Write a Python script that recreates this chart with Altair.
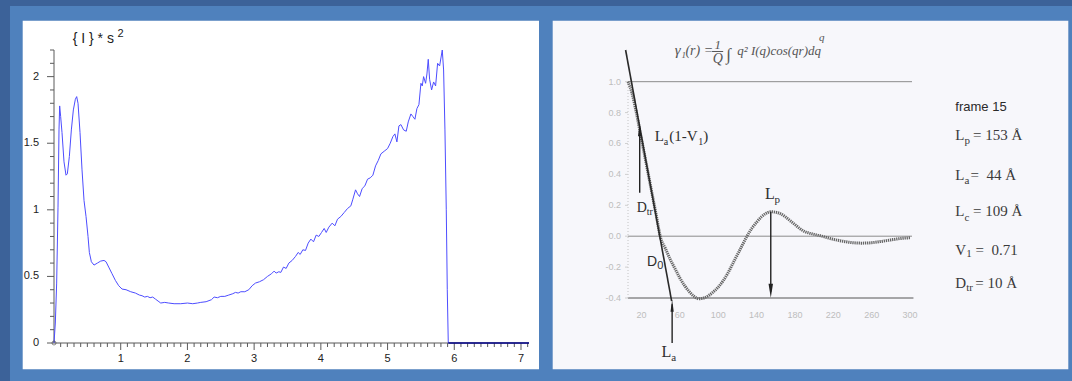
import altair as alt
import pandas as pd

# ---------------- left panel: {I}*s^2 against s ----------------
s_vals = [0.0, 0.02, 0.04, 0.06, 0.075, 0.085, 0.10, 0.12, 0.15, 0.18, 0.20, 0.23, 0.26, 0.29, 0.32,
          0.34, 0.36, 0.39, 0.42, 0.45, 0.48, 0.51, 0.53, 0.56, 0.60, 0.65, 0.70, 0.75, 0.78, 0.82,
          0.87, 0.92, 0.97, 1.02, 1.08, 1.15, 1.22, 1.28, 1.32, 1.36, 1.40, 1.44, 1.48, 1.52, 1.56,
          1.60, 1.66, 1.72, 1.80, 1.90, 2.00, 2.08, 2.15, 2.20, 2.28, 2.36, 2.40, 2.45, 2.50, 2.56,
          2.62, 2.68, 2.72, 2.76, 2.80, 2.86, 2.92, 2.97, 3.02, 3.08, 3.14, 3.20, 3.26, 3.30, 3.33,
          3.37, 3.40, 3.44, 3.48, 3.52, 3.57, 3.62, 3.66, 3.69, 3.73, 3.77, 3.81, 3.85, 3.89, 3.93,
          3.97, 4.01, 4.05, 4.08, 4.12, 4.17, 4.21, 4.25, 4.30, 4.35, 4.40, 4.45, 4.48, 4.52, 4.55,
          4.58, 4.62, 4.66, 4.70, 4.74, 4.78, 4.82, 4.86, 4.90, 4.95, 5.00, 5.04, 5.08, 5.11, 5.14,
          5.17, 5.20, 5.24, 5.28, 5.31, 5.35, 5.38, 5.41, 5.44, 5.47, 5.50, 5.52, 5.54, 5.57, 5.59,
          5.61, 5.63, 5.66, 5.69, 5.72, 5.75, 5.78, 5.80, 5.82, 5.84, 5.86, 5.88, 5.895, 5.91]
i_vals = [0.0, 0.15, 0.45, 1.02, 1.60, 1.78, 1.70, 1.58, 1.36, 1.26, 1.27, 1.40, 1.60, 1.75, 1.83,
          1.85, 1.80, 1.58, 1.30, 1.07, 0.95, 0.80, 0.68, 0.61, 0.585, 0.60, 0.615, 0.62, 0.61, 0.57,
          0.52, 0.47, 0.43, 0.405, 0.40, 0.385, 0.375, 0.36, 0.355, 0.345, 0.35, 0.34, 0.345, 0.33, 0.315,
          0.30, 0.305, 0.30, 0.295, 0.295, 0.30, 0.295, 0.30, 0.305, 0.31, 0.325, 0.345, 0.34, 0.35, 0.35,
          0.36, 0.37, 0.38, 0.375, 0.385, 0.385, 0.40, 0.43, 0.45, 0.46, 0.475, 0.50, 0.52, 0.54, 0.525,
          0.535, 0.53, 0.57, 0.56, 0.60, 0.62, 0.65, 0.68, 0.665, 0.70, 0.695, 0.75, 0.78, 0.76, 0.81,
          0.80, 0.83, 0.86, 0.83, 0.87, 0.90, 0.88, 0.93, 0.95, 0.98, 1.01, 1.03, 1.08, 1.15, 1.12,
          1.10, 1.16, 1.18, 1.23, 1.24, 1.26, 1.33, 1.37, 1.42, 1.44, 1.46, 1.50, 1.55, 1.57, 1.51,
          1.63, 1.64, 1.60, 1.59, 1.66, 1.72, 1.70, 1.68, 1.76, 1.79, 1.95, 1.93, 2.00, 1.95, 2.02,
          2.13, 1.98, 1.90, 1.96, 1.93, 2.10, 2.08, 2.14, 2.20, 2.05, 1.60, 1.00, 0.40, 0.0]
tail_s = [5.91, 7.12]
tail_i = [0.0, 0.0]
x_major = [1, 2, 3, 4, 5, 6, 7]
x_major_lbl = ["1", "2", "3", "4", "5", "6", "7"]
y_major = [0, 0.5, 1, 1.5, 2]
y_major_lbl = ["0", "0.5", "1", "1.5", "2"]
x_minor = [round(0.1 * k, 1) for k in range(1, 72) if k % 10]
y_minor = [round(0.1 * k, 1) for k in range(1, 23) if k % 5]
x_axis_end = [0, 7.12]
y_axis_end = [0, 2.2]
left_title = ["{ I } * s", "2"]
left_title_s = [0.28, 0.95]
left_title_v = [2.249, 2.294]
left_title_fs = [14, 11]

# ---------------- right panel: correlation function ----------------
r_vals = [6, 10, 15, 20, 25, 30, 35, 40, 45, 50, 55, 60, 65, 70, 75, 80, 85, 90, 95, 100, 105, 110,
          115, 120, 125, 130, 135, 140, 145, 150, 155, 160, 165, 170, 175, 180, 185, 190, 195, 200,
          205, 210, 215, 220, 230, 240, 250, 260, 270, 280, 290, 300]
g_vals = [1.0, 0.93, 0.79, 0.63, 0.47, 0.31, 0.15, -0.01, -0.08, -0.15, -0.21, -0.27, -0.32, -0.36,
          -0.39, -0.405, -0.40, -0.385, -0.36, -0.33, -0.29, -0.24, -0.18, -0.12, -0.06, 0.0, 0.05,
          0.09, 0.125, 0.148, 0.158, 0.155, 0.145, 0.125, 0.10, 0.075, 0.05, 0.03, 0.02, 0.012, 0.005,
          -0.003, -0.012, -0.02, -0.033, -0.042, -0.045, -0.042, -0.034, -0.024, -0.015, -0.01]
tangent_r = [3.5, 51.5]
tangent_g = [1.205, -0.42]
ref_g = [1.0, 0.0, -0.4]
ref_r0 = [6, 6, 6]
ref_r1 = [302, 302, 303.5]
ref_col = ["#8c8c8c", "#8c8c8c", "#555555"]
r_ticks = [20, 60, 100, 140, 180, 220, 260, 300]
r_tick_lbl = ["20", "60", "100", "140", "180", "220", "260", "300"]
g_ticks = [-0.4, -0.2, 0.0, 0.2, 0.4, 0.6, 0.8, 1.0]
g_tick_lbl = ["-0.4", "-0.2", "0.0", "0.2", "0.4", "0.6", "0.8", "1.0"]

shaft_r = [18.2, 52.0, 154.8]
shaft_g0 = [0.281, -0.691, 0.158]
shaft_g1 = [0.70, -0.44, -0.36]
up_head_r = [18.2, 52.0]
up_head_g = [0.689, -0.45]
up_head_size = [169, 144]
down_head_r = [154.8]
down_head_g = [-0.353]

lbl_t = ["L", "a", "(1-V", "1", ")", "L", "p", "D", "tr", "L", "a"]
lbl_r = [33.9, 43.3, 49.0, 79.3, 84.5, 148.8, 158.7, 15.1, 25.5, 40.9, 51.1]
lbl_g = [0.617, 0.591, 0.617, 0.591, 0.617, 0.242, 0.216, 0.158, 0.1385, -0.779, -0.805]
lbl_fs = [15, 10, 15, 10, 15, 16, 11, 14, 10, 16, 11]

d0_t = ["D", "0"]
d0_r = [25.8, 36.4]
d0_g = [-0.191, -0.2106]
d0_fs = [14, 11]

frm_t = ["\u03b3", "1", "(r) =", "q\u00b2 I(q)cos(qr)dq", "q"]
frm_r = [54.8, 61.8, 65.8, 119.9, 205.2]
frm_g = [1.1727, 1.153, 1.1727, 1.1727, 1.265]
frm_fs = [15, 9, 14, 13, 11]
frac_t = ["1", "Q"]
frac_r = [99.6, 99.6]
frac_g = [1.2115, 1.121]
frac_fs = [13, 14]
frac_bar_r = [93.6, 105.2]
frac_bar_g = [1.1953]
int_t = ["\u222b"]
int_r = [108.5]
int_g = [1.1405]

side_t = ["L", "p", "= 153 \u00c5", "L", "a", "=\u00a0 44 \u00c5", "L", "c", "= 109 \u00c5",
          "V", "1", "=\u00a0 0.71", "D", "tr", "= 10 \u00c5"]
side_r = [347.2, 356.8, 365.7, 347.2, 356.8, 362.9, 347.2, 356.8, 365.7,
          347.2, 358.5, 368.1, 347.2, 358.5, 368.0]
side_g = [0.6233, 0.597, 0.6233, 0.3647, 0.3389, 0.3647, 0.1275, 0.0997, 0.1275,
          -0.120, -0.133, -0.120, -0.335, -0.357, -0.335]
side_fs = [15, 11, 15, 15, 11, 15, 15, 11, 15, 15, 11, 15, 15, 11, 15]
frame_t = ["frame 15"]
frame_r = [347.2]
frame_g = [0.8075]

# ---------------- layout (page pixels) ----------------
BG = "#4f81bd"
DARK = "#3c6299"
OX1, OX2, OY = 54, 628, 50
W1, H1 = 475, 293
W2, H2 = 284, 248
AXC = "#5a5a5a"

xs1 = alt.Scale(domain=[0, 7.12], nice=False, zero=False)
ys1 = alt.Scale(domain=[0, 2.2], nice=False, zero=False)
xs2 = alt.Scale(domain=[6, 302], nice=False, zero=False)
ys2 = alt.Scale(domain=[-0.4, 1.205], nice=False, zero=False)


def block(x0, x1, y0, y1, color, ox):
    return alt.Chart(pd.DataFrame({"k": [0]})).mark_rect(color=color).encode(
        x=alt.value(x0 - ox), x2=alt.value(x1 - ox),
        y=alt.value(y0 - OY), y2=alt.value(y1 - OY))


def X1(f="s"):
    return alt.X(f + ":Q", scale=xs1, axis=None)


def Y1(f="v"):
    return alt.Y(f + ":Q", scale=ys1, axis=None)


def X2(f="r"):
    return alt.X(f + ":Q", scale=xs2, axis=None)


def Y2(f="g"):
    return alt.Y(f + ":Q", scale=ys2, axis=None)


# ---- left chart ----
df_left = pd.DataFrame({"s": s_vals, "v": i_vals})
df_tail = pd.DataFrame({"s": tail_s, "v": tail_i})

x_dom1 = alt.Chart(pd.DataFrame({"s0": [x_axis_end[0]], "s1": [x_axis_end[1]], "v": [0]})).mark_rule(
    color=AXC, strokeWidth=1).encode(x=X1("s0"), x2="s1:Q", y=Y1())
y_dom1 = alt.Chart(pd.DataFrame({"s": [0], "v0": [y_axis_end[0]], "v1": [y_axis_end[1]]})).mark_rule(
    color=AXC, strokeWidth=1).encode(x=X1(), y=Y1("v0"), y2="v1:Q")
xmaj = alt.Chart(pd.DataFrame({"s": x_major})).mark_rule(color=AXC).encode(
    x=X1(), y=alt.value(H1), y2=alt.value(H1 + 7))
ymaj = alt.Chart(pd.DataFrame({"v": y_major})).mark_rule(color=AXC).encode(
    y=Y1(), x=alt.value(-7), x2=alt.value(0))
xmin = alt.Chart(pd.DataFrame({"s": x_minor})).mark_rule(color=AXC).encode(
    x=X1(), y=alt.value(H1), y2=alt.value(H1 + 4))
ymin = alt.Chart(pd.DataFrame({"v": y_minor})).mark_rule(color=AXC).encode(
    y=Y1(), x=alt.value(-4), x2=alt.value(0))
xlab1 = alt.Chart(pd.DataFrame({"s": x_major, "t": x_major_lbl})).mark_text(
    align="center", baseline="top", font="Liberation Sans", fontSize=11, color="#222").encode(
    x=X1(), y=alt.value(H1 + 10), text="t:N")
ylab1 = alt.Chart(pd.DataFrame({"v": y_major, "t": y_major_lbl})).mark_text(
    align="right", baseline="middle", font="Liberation Sans", fontSize=11, color="#222").encode(
    y=Y1(), x=alt.value(-15), text="t:N")

curve1 = alt.Chart(df_left).mark_line(color="#4d4dff", strokeWidth=1).encode(x=X1(), y=Y1())
tail1 = alt.Chart(df_tail).mark_line(color="#000088", strokeWidth=1.5).encode(x=X1(), y=Y1())
origin1 = alt.Chart(df_left.head(1)).mark_point(shape="circle", filled=False, color="#333",
                                                size=16, strokeWidth=0.8).encode(x=X1(), y=Y1())
title1 = alt.Chart(pd.DataFrame({"s": left_title_s, "v": left_title_v, "t": left_title,
                                 "fs": left_title_fs})).mark_text(
    align="left", baseline="alphabetic", font="Liberation Sans", color="#222").encode(
    x=X1(), y=Y1(), text="t:N", size=alt.Size("fs:Q", scale=None))

left = alt.layer(
    block(0, 546, 0, 6, DARK, OX1),
    block(0, 10, 0, 381, DARK, OX1),
    block(22.7, 539, 20.7, 369.3, "#ffffff", OX1),
    x_dom1, y_dom1, xmin, ymin, xmaj, ymaj, xlab1, ylab1,
    curve1, tail1, origin1, title1,
).properties(width=W1, height=H1)

# ---- right chart ----
refs = alt.Chart(pd.DataFrame({"g": ref_g, "r0": ref_r0, "r1": ref_r1, "c": ref_col})).mark_rule(
    strokeWidth=1).encode(x=X2("r0"), x2="r1:Q", y=Y2(), color=alt.Color("c:N", scale=None))
yline = alt.Chart(pd.DataFrame({"r": [6], "g0": [-0.4], "g1": [1.0]})).mark_rule(
    color="#c4c4c4", strokeDash=[1, 2]).encode(x=X2(), y=Y2("g0"), y2="g1:Q")
gtick = alt.Chart(pd.DataFrame({"g": g_ticks})).mark_rule(color="#cfcfcf").encode(
    y=Y2(), x=alt.value(-3), x2=alt.value(0))
glab = alt.Chart(pd.DataFrame({"g": g_ticks, "t": g_tick_lbl})).mark_text(
    align="right", baseline="middle", font="Liberation Sans", fontSize=9, color="#bdbdbd").encode(
    y=Y2(), x=alt.value(-7), text="t:N")
rlab = alt.Chart(pd.DataFrame({"r": r_ticks, "t": r_tick_lbl})).mark_text(
    align="center", baseline="top", font="Liberation Sans", fontSize=9, color="#bdbdbd").encode(
    x=X2(), y=alt.value(H2 + 13), text="t:N")
curve2 = alt.Chart(pd.DataFrame({"r": r_vals, "g": g_vals})).mark_line(
    color="#666666", strokeWidth=3, strokeDash=[1.3, 0.8], interpolate="monotone").encode(
    x=X2(), y=Y2())
tangent = alt.Chart(pd.DataFrame({"r": tangent_r, "g": tangent_g})).mark_line(
    color="#2a2a2a", strokeWidth=1.6).encode(x=X2(), y=Y2())
shafts = alt.Chart(pd.DataFrame({"r": shaft_r, "g0": shaft_g0, "g1": shaft_g1})).mark_rule(
    color="#222", strokeWidth=1.4).encode(x=X2(), y=Y2("g0"), y2="g1:Q")
heads_up = alt.Chart(pd.DataFrame({"r": up_head_r, "g": up_head_g, "sz": up_head_size})).mark_point(
    shape="M0,-1L0.27,1L-0.27,1Z", filled=True, color="#222", opacity=1).encode(
    x=X2(), y=Y2(), size=alt.Size("sz:Q", scale=None))
heads_down = alt.Chart(pd.DataFrame({"r": down_head_r, "g": down_head_g})).mark_point(
    shape="M0,1L0.32,-1L-0.32,-1Z", filled=True, color="#222", opacity=1, size=196).encode(
    x=X2(), y=Y2())
frac_bar = alt.Chart(pd.DataFrame({"r0": [frac_bar_r[0]], "r1": [frac_bar_r[1]],
                                   "g": frac_bar_g})).mark_rule(color="#555", strokeWidth=1).encode(
    x=X2("r0"), x2="r1:Q", y=Y2())


def texts(t, r, g, fs, font, style="normal", color="#333", align="left"):
    df = pd.DataFrame({"t": t, "r": r, "g": g, "fs": fs})
    return alt.Chart(df).mark_text(align=align, baseline="alphabetic", font=font,
                                   fontStyle=style, color=color).encode(
        x=X2(), y=Y2(), text="t:N", size=alt.Size("fs:Q", scale=None))


t_lbl = texts(lbl_t, lbl_r, lbl_g, lbl_fs, "Liberation Serif", color="#2e2e2e")
t_d0 = texts(d0_t, d0_r, d0_g, d0_fs, "Liberation Sans", color="#2e2e2e")
t_frm = texts(frm_t, frm_r, frm_g, frm_fs, "Liberation Serif", style="italic", color="#555")
t_frac = texts(frac_t, frac_r, frac_g, frac_fs, "Liberation Serif", style="italic", color="#555",
               align="center")
t_int = texts(int_t, int_r, int_g, [17], "Liberation Serif", color="#555")
t_side = texts(side_t, side_r, side_g, side_fs, "Liberation Serif", color="#3a3a3a")
t_frame = texts(frame_t, frame_r, frame_g, [13], "Liberation Sans", color="#2a2a2a")

right = alt.layer(
    block(546, 1072, 0, 6, DARK, OX2),
    block(552.7, 1068.3, 20.7, 369.3, "#f7f7fb", OX2),
    refs, yline, gtick, glab, rlab, curve2, tangent, shafts, heads_up, heads_down, frac_bar,
    t_lbl, t_d0, t_frm, t_frac, t_int, t_side, t_frame,
).properties(width=W2, height=H2)

chart = alt.hconcat(left, right, spacing=0).properties(
    padding=0, background=BG
).configure_view(strokeWidth=0)

chart.save("out.html", embed_options={"renderer": "svg", "actions": False})
